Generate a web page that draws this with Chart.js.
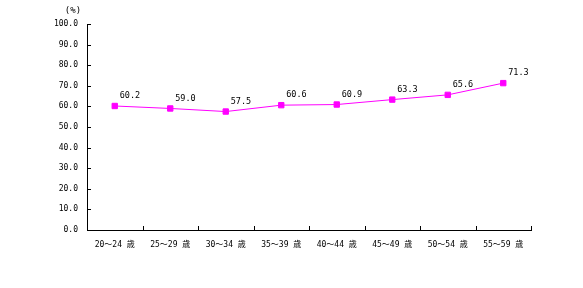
<!DOCTYPE html>
<html>
<head>
<meta charset="utf-8">
<script src="https://cdn.jsdelivr.net/npm/chart.js@4/dist/chart.umd.min.js"></script>
<style>
  html, body { margin: 0; padding: 0; background: #fff; }
  #wrap { width: 583px; height: 288px; }
</style>
</head>
<body>
<div id="wrap"><canvas id="rateChart" width="583" height="288"></canvas></div>
<script>
const ageGroups = ['20～24 歳', '25～29 歳', '30～34 歳', '35～39 歳', '40～44 歳', '45～49 歳', '50～54 歳', '55～59 歳'];
const rates = [60.2, 59.0, 57.5, 60.6, 60.9, 63.3, 65.6, 71.3];
const yMin = 0;
const yMax = 100;
const yStep = 10;
const unitLabel = '(%)';

const FONT = '"DejaVu Sans Mono", "Noto Sans CJK JP", monospace';

// inward tick marks, unit label and value labels
const extrasPlugin = {
    id: 'extras',
    afterDraw(chart) {
        const ctx = chart.ctx;
        const x = chart.scales.x;
        const y = chart.scales.y;
        const area = chart.chartArea;
        ctx.save();
        ctx.strokeStyle = '#000';
        ctx.lineWidth = 1;
        ctx.beginPath();
        for (let v = yMin; v <= yMax; v += yStep) {
            const py = Math.round(y.getPixelForValue(v)) + 0.5;
            ctx.moveTo(area.left, py);
            ctx.lineTo(area.left + 4, py);
        }
        for (let i = 1; i <= ageGroups.length; i++) {
            const px = Math.round(x.getPixelForValue(i - 0.5)) + 0.5;
            ctx.moveTo(px, area.bottom);
            ctx.lineTo(px, area.bottom - 4);
        }
        ctx.stroke();

        ctx.fillStyle = '#000';
        ctx.font = '9px ' + FONT;
        ctx.textAlign = 'center';
        ctx.textBaseline = 'middle';
        ctx.fillText(unitLabel, 73, 11);

        ctx.font = '8.5px ' + FONT;
        ctx.textAlign = 'left';
        const meta = chart.getDatasetMeta(0);
        meta.data.forEach((pt, i) => {
            ctx.fillText(rates[i].toFixed(1), pt.x + 5, pt.y - 10);
        });
        ctx.restore();
    }
};

new Chart(document.getElementById('rateChart'), {
    type: 'line',
    data: {
        labels: ageGroups,
        datasets: [{
            data: rates,
            borderColor: '#ff00ff',
            backgroundColor: '#ff00ff',
            borderWidth: 1,
            pointStyle: 'rect',
            pointRadius: 3.8,
            pointHoverRadius: 3.8,
            tension: 0
        }]
    },
    options: {
        responsive: false,
        animation: false,
        events: [],
        layout: { padding: { top: 24, right: 52, bottom: 0, left: 0 } },
        plugins: {
            legend: { display: false },
            tooltip: { enabled: false }
        },
        scales: {
            x: {
                offset: true,
                grid: { display: false, drawTicks: false },
                border: { color: '#000', width: 1 },
                ticks: { color: '#000', font: { family: FONT, size: 8 }, padding: 10, maxRotation: 0, autoSkip: false },
                afterFit: s => { s.height = 58; }
            },
            y: {
                min: yMin,
                max: yMax,
                grid: { display: false, drawTicks: false },
                border: { color: '#000', width: 1 },
                ticks: {
                    stepSize: yStep,
                    color: '#000',
                    font: { family: FONT, size: 8 },
                    padding: 9,
                    callback: v => v.toFixed(1)
                },
                afterFit: s => { s.width = 87; }
            }
        }
    },
    plugins: [extrasPlugin]
});
</script>
</body>
</html>
